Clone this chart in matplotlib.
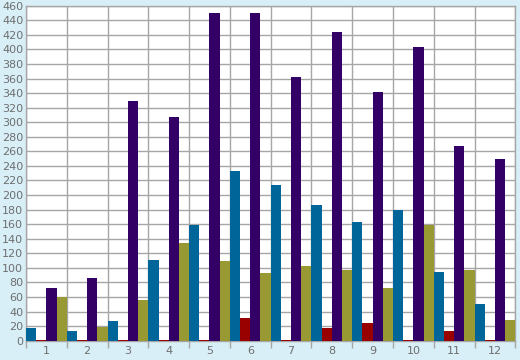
import matplotlib
matplotlib.use("Agg")
import matplotlib.pyplot as plt
import numpy as np

categories = ["1", "2", "3", "4", "5", "6", "7", "8", "9", "10", "11", "12"]
blue_vals = [17, 13, 27, 111, 159, 233, 214, 186, 163, 179, 94, 50]
red_vals = [1, 1, 1, 1, 1, 31, 1, 17, 24, 1, 13, 1]
purple_vals = [73, 86, 329, 307, 450, 450, 362, 424, 341, 403, 267, 249]
olive_vals = [60, 19, 56, 134, 109, 93, 102, 97, 72, 159, 97, 28]
y_ticks = list(range(0, 461, 20))

series = [
    (blue_vals, "#006699"),
    (red_vals, "#990000"),
    (purple_vals, "#330066"),
    (olive_vals, "#999933"),
]

bg = "#D9EFF7"
grid_c = "#A6A6A6"
text_c = "#6E6E6E"

fig = plt.figure(figsize=(5.2, 3.6), dpi=100, facecolor=bg)
ax = fig.add_axes([26/520, (360-340.7)/360, 489.3/520, 335/360])
ax.set_facecolor("white")

x = np.arange(len(categories))
w = 0.25
for i, (vals, col) in enumerate(series):
    ax.bar(x + (i - 1.5) * w, vals, width=w, color=col, linewidth=0, zorder=3)

ax.set_xlim(-0.5, len(categories) - 0.5)
ax.set_ylim(0, 460)
ax.set_yticks(y_ticks)
ax.set_yticklabels([str(v) for v in y_ticks])
ax.set_xticks(x)
ax.set_xticklabels(categories)
ax.set_xticks(np.arange(-0.5, len(categories), 1.0), minor=True)

ax.grid(True, axis="y", which="major", color=grid_c, linewidth=1, zorder=1)
ax.grid(True, axis="x", which="minor", color=grid_c, linewidth=1, zorder=1)
ax.grid(False, axis="x", which="major")

ax.tick_params(axis="x", which="major", length=0, pad=4, labelsize=8, labelcolor=text_c)
ax.tick_params(axis="x", which="minor", length=5, width=1, color=grid_c, direction="out")
ax.tick_params(axis="y", which="major", length=0, pad=2, labelsize=8, labelcolor=text_c)

for s in ax.spines.values():
    s.set_color(grid_c)
    s.set_linewidth(1)

fig.savefig("out.png", dpi=100, facecolor=bg)
